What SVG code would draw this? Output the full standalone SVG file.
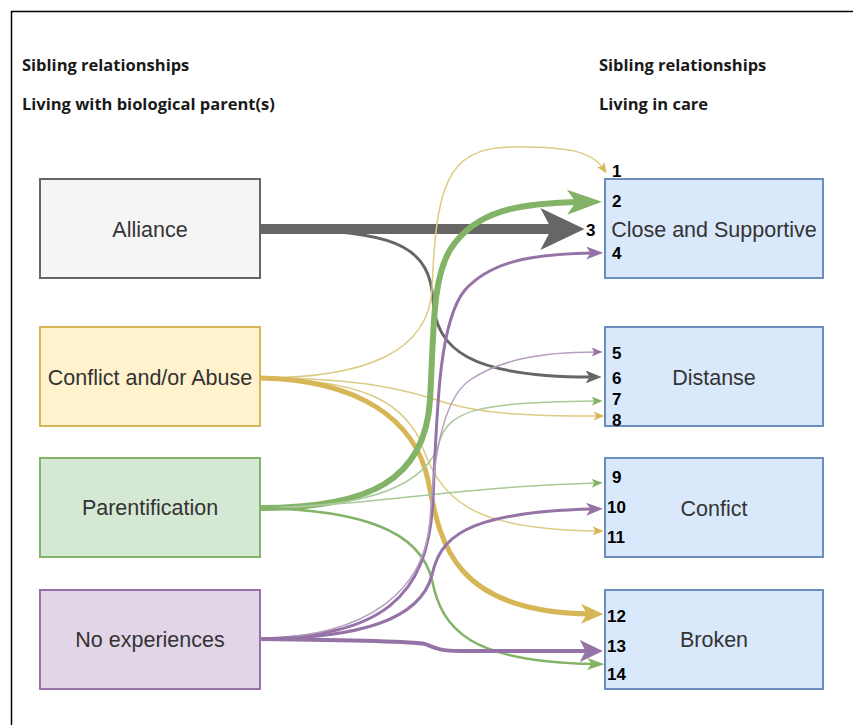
<svg xmlns="http://www.w3.org/2000/svg" width="853" height="725" viewBox="0 0 853 725">
<style>
.hdr{font-family:"Open Sans","Liberation Sans",sans-serif;font-weight:700;font-size:16.5px;fill:#1a1a1a}
.lbl{font-family:"Liberation Sans",Arial,sans-serif;font-size:21.5px;fill:#333}
.num{font-family:"Liberation Sans",Arial,sans-serif;font-weight:700;font-size:17px;fill:#000}
.box{stroke-width:2}
.c{fill:none;stroke-linecap:butt}
.gy{stroke:#666}
.ye{stroke:#d6b656}
.yl{stroke:#dccb82}
.gr{stroke:#82b366}
.gl{stroke:#a9c898}
.pu{stroke:#9673a6}
.pl{stroke:#b49fc0}
</style>
<defs>
<marker id="gyB" viewBox="0 0 10 10" refX="4" refY="5" markerUnits="userSpaceOnUse" markerWidth="44" markerHeight="42" orient="auto" preserveAspectRatio="none"><path d="M0,0 L10,5 L0,10 L2.5,5 z" fill="#666"/></marker>
<marker id="gyM" viewBox="0 0 10 10" refX="4" refY="5" markerUnits="userSpaceOnUse" markerWidth="16" markerHeight="13" orient="auto" preserveAspectRatio="none"><path d="M0,0 L10,5 L0,10 L2.5,5 z" fill="#666"/></marker>
<marker id="yeT" viewBox="0 0 10 10" refX="4" refY="5" markerUnits="userSpaceOnUse" markerWidth="11" markerHeight="9" orient="auto" preserveAspectRatio="none"><path d="M0,0 L10,5 L0,10 L2.5,5 z" fill="#d6b656"/></marker>
<marker id="yeB" viewBox="0 0 10 10" refX="4" refY="5" markerUnits="userSpaceOnUse" markerWidth="22" markerHeight="20" orient="auto" preserveAspectRatio="none"><path d="M0,0 L10,5 L0,10 L2.5,5 z" fill="#d6b656"/></marker>
<marker id="grT" viewBox="0 0 10 10" refX="4" refY="5" markerUnits="userSpaceOnUse" markerWidth="11" markerHeight="9" orient="auto" preserveAspectRatio="none"><path d="M0,0 L10,5 L0,10 L2.5,5 z" fill="#82b366"/></marker>
<marker id="grM" viewBox="0 0 10 10" refX="4" refY="5" markerUnits="userSpaceOnUse" markerWidth="17" markerHeight="12" orient="auto" preserveAspectRatio="none"><path d="M0,0 L10,5 L0,10 L2.5,5 z" fill="#82b366"/></marker>
<marker id="grB" viewBox="0 0 10 10" refX="4" refY="5" markerUnits="userSpaceOnUse" markerWidth="35" markerHeight="25" orient="auto" preserveAspectRatio="none"><path d="M0,0 L10,5 L0,10 L2.5,5 z" fill="#82b366"/></marker>
<marker id="puT" viewBox="0 0 10 10" refX="4" refY="5" markerUnits="userSpaceOnUse" markerWidth="11" markerHeight="9" orient="auto" preserveAspectRatio="none"><path d="M0,0 L10,5 L0,10 L2.5,5 z" fill="#9673a6"/></marker>
<marker id="puM" viewBox="0 0 10 10" refX="4" refY="5" markerUnits="userSpaceOnUse" markerWidth="17" markerHeight="13" orient="auto" preserveAspectRatio="none"><path d="M0,0 L10,5 L0,10 L2.5,5 z" fill="#9673a6"/></marker>
<marker id="puB" viewBox="0 0 10 10" refX="4" refY="5" markerUnits="userSpaceOnUse" markerWidth="23" markerHeight="22" orient="auto" preserveAspectRatio="none"><path d="M0,0 L10,5 L0,10 L2.5,5 z" fill="#9673a6"/></marker>
</defs>
<rect width="853" height="725" fill="#fff"/>
<path d="M11.5,725 V11.5 H853" fill="none" stroke="#000" stroke-width="1.5"/>
<g id="headers">
<text class="hdr" x="22" y="71">Sibling relationships</text>
<text class="hdr" x="22" y="110">Living with biological parent(s)</text>
<text class="hdr" x="599" y="71">Sibling relationships</text>
<text class="hdr" x="599" y="110">Living in care</text>
</g>
<g id="connectors">
<path class="c gy" stroke-width="10" d="M260,229 L558,229" marker-end="url(#gyB)"/>
<path class="c gy" stroke-width="3" d="M300,230 C400,232 430,250 433,300 C436,350 470,377 592,377" marker-end="url(#gyM)"/>
<path class="c yl" stroke-width="1.5" d="M260,378 C370,378 428,350 432,290 C436,190 445,148 510,147 C570,146 592,152 603,168" marker-end="url(#yeT)"/>
<path class="c yl" stroke-width="1.5" d="M260,378 C380,378 420,395 447,403 C480,413 520,416 598,416" marker-end="url(#yeT)"/>
<path class="c yl" stroke-width="1.5" d="M260,378 C360,380 400,400 420,440 C440,500 470,530 597,531" marker-end="url(#yeT)"/>
<path class="c ye" stroke-width="5" d="M260,378 C360,380 415,420 428,480 C440,540 450,612 590,614" marker-end="url(#yeB)"/>
<path class="c gr" stroke-width="6" d="M260,508 C370,508 425,480 430,400 C434,330 432,280 450,250 C475,210 520,203 581,202" marker-end="url(#grB)"/>
<path class="c gl" stroke-width="1.5" d="M260,508 C380,508 430,480 440,440 C450,410 480,402 596,401" marker-end="url(#grT)"/>
<path class="c gl" stroke-width="1.5" d="M260,508 C380,505 440,488 596,483" marker-end="url(#grT)"/>
<path class="c gr" stroke-width="2.5" d="M260,508 C360,510 420,530 432,580 C442,630 470,662 594,664" marker-end="url(#grM)"/>
<path class="c pu" stroke-width="3" d="M260,639 C380,636 428,600 433,500 C437,400 440,320 465,290 C490,262 530,254 593,253" marker-end="url(#puM)"/>
<path class="c pl" stroke-width="1.5" d="M260,639 C370,636 425,590 430,520 C433,470 440,400 470,380 C500,360 540,352 596,352" marker-end="url(#puT)"/>
<path class="c pu" stroke-width="3" d="M260,639 C360,638 420,620 432,575 C440,540 460,512 593,509" marker-end="url(#puM)"/>
<path class="c pu" stroke-width="4" d="M260,639 C350,640 410,641 425,644 C435,648 440,651 460,651 L589,651" marker-end="url(#puB)"/>
</g>
<g id="alliance"><rect class="box" x="40" y="179" width="220" height="99" fill="#f5f5f5" stroke="#666"/><text class="lbl" x="150" y="237" text-anchor="middle">Alliance</text></g>
<g id="conflict-abuse"><rect class="box" x="40" y="327" width="220" height="99" fill="#fff2cc" stroke="#d6b656"/><text class="lbl" x="150" y="385" text-anchor="middle">Conflict and/or Abuse</text></g>
<g id="parentification"><rect class="box" x="40" y="458" width="220" height="99" fill="#d5e8d4" stroke="#82b366"/><text class="lbl" x="150" y="515" text-anchor="middle">Parentification</text></g>
<g id="no-experiences"><rect class="box" x="40" y="590" width="220" height="99" fill="#e1d5e7" stroke="#9673a6"/><text class="lbl" x="150" y="647" text-anchor="middle">No experiences</text></g>
<g id="close-supportive"><rect class="box" x="605" y="179" width="218" height="99" fill="#dae8fc" stroke="#6c8ebf"/><text class="lbl" x="714" y="237" text-anchor="middle">Close and Supportive</text></g>
<g id="distanse"><rect class="box" x="605" y="327" width="218" height="99" fill="#dae8fc" stroke="#6c8ebf"/><text class="lbl" x="714" y="385" text-anchor="middle">Distanse</text></g>
<g id="confict"><rect class="box" x="605" y="458" width="218" height="99" fill="#dae8fc" stroke="#6c8ebf"/><text class="lbl" x="714" y="516" text-anchor="middle">Confict</text></g>
<g id="broken"><rect class="box" x="605" y="590" width="218" height="99" fill="#dae8fc" stroke="#6c8ebf"/><text class="lbl" x="714" y="647" text-anchor="middle">Broken</text></g>
<g id="numbers">
<text class="num" x="612" y="177">1</text>
<text class="num" x="612" y="207">2</text>
<text class="num" x="586" y="236">3</text>
<text class="num" x="612" y="259">4</text>
<text class="num" x="612" y="359">5</text>
<text class="num" x="612" y="384">6</text>
<text class="num" x="612" y="405">7</text>
<text class="num" x="612" y="426">8</text>
<text class="num" x="612" y="483">9</text>
<text class="num" x="607" y="513">10</text>
<text class="num" x="607" y="543">11</text>
<text class="num" x="607" y="622">12</text>
<text class="num" x="607" y="652">13</text>
<text class="num" x="607" y="680">14</text>
</g>
</svg>
